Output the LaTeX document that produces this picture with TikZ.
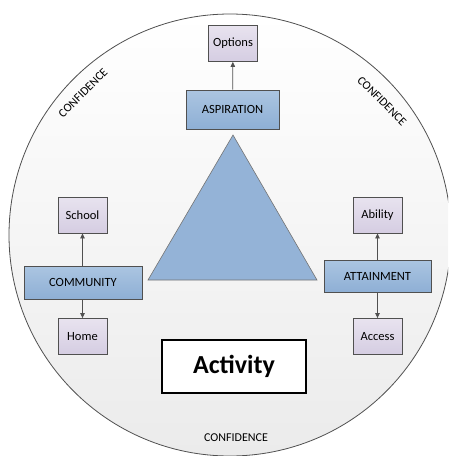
\documentclass[tikz,border=0pt]{standalone}
\usepackage{fontspec}
\setmainfont{Carlito}
\usetikzlibrary{arrows.meta}
\definecolor{edgegray}{HTML}{505050}
\definecolor{lavtop}{HTML}{E8E3EF}
\definecolor{lavbot}{HTML}{D5CDE2}
\definecolor{bluetop}{HTML}{ABC5E1}
\definecolor{bluebot}{HTML}{8EAFD5}
\definecolor{tri}{HTML}{94B3D7}
\definecolor{circbot}{HTML}{EBEBEB}
\tikzset{
  subbox/.style={draw=edgegray, line width=0.8pt, top color=lavtop, bottom color=lavbot,
    minimum width=49pt, minimum height=36pt, inner sep=0pt, font=\fontsize{12.5}{14}\selectfont},
  mainbox/.style={draw=edgegray, line width=0.8pt, top color=bluetop, bottom color=bluebot,
    minimum height=33pt, inner sep=0pt, font=\fontsize{12.5}{14}\selectfont},
  conn/.style={draw=edgegray, line width=0.8pt, -{Triangle[length=5pt,width=4.5pt]}},
  conf/.style={font=\fontsize{12}{14}\selectfont, inner sep=0pt}
}
\begin{document}
\begin{tikzpicture}[x=1pt,y=-1pt]
\useasboundingbox (0,0) rectangle (448,456);
\begin{scope}
\clip (0,0) rectangle (448,456);
\shade[top color=white, bottom color=circbot, draw=edgegray, line width=0.8pt] (230,235) circle (221);
\end{scope}
% triangle
\coordinate (tA) at (233,135);
\coordinate (tB) at (148,280);
\coordinate (tC) at (317,280);
\draw[fill=tri, draw=edgegray!80, line width=0.6pt] (tA) -- (tB) -- (tC) -- cycle;
% top
\node[subbox] (options) at (233,43.5) {Options};
\node[mainbox, minimum width=93pt, minimum height=39pt] (aspiration) at (232.5,109.5) {ASPIRATION};
\draw[conn] (aspiration) -- (options);
% left
\node[subbox] (school) at (82.5,215) {School};
\node[mainbox, minimum width=118pt] (community) at (83,282.5) {COMMUNITY};
\node[subbox] (home) at (82.5,336.5) {Home};
\draw[conn] (community.north -| school) -- (school);
\draw[conn] (community.south -| home) -- (home);
% right
\node[subbox] (ability) at (377.5,215) {Ability};
\node[mainbox, minimum width=107pt, minimum height=32pt] (attainment) at (377.5,276) {ATTAINMENT};
\node[subbox] (access) at (377.5,336.5) {Access};
\draw[conn] (attainment) -- (ability);
\draw[conn] (attainment) -- (access);
% activity
\node[draw=black, line width=1.6pt, fill=white, minimum width=144pt, minimum height=53pt,
  font=\fontsize{26}{30}\bfseries\selectfont] (activity) at (234,366.5) {Activity};
% confidence labels
\node[conf] (confb) at (236,438) {CONFIDENCE};
\node[conf, rotate=45] (conftl) at (83,93) {CONFIDENCE};
\node[conf, rotate=-45] (conftr) at (382,101) {CONFIDENCE};
\end{tikzpicture}
\end{document}
